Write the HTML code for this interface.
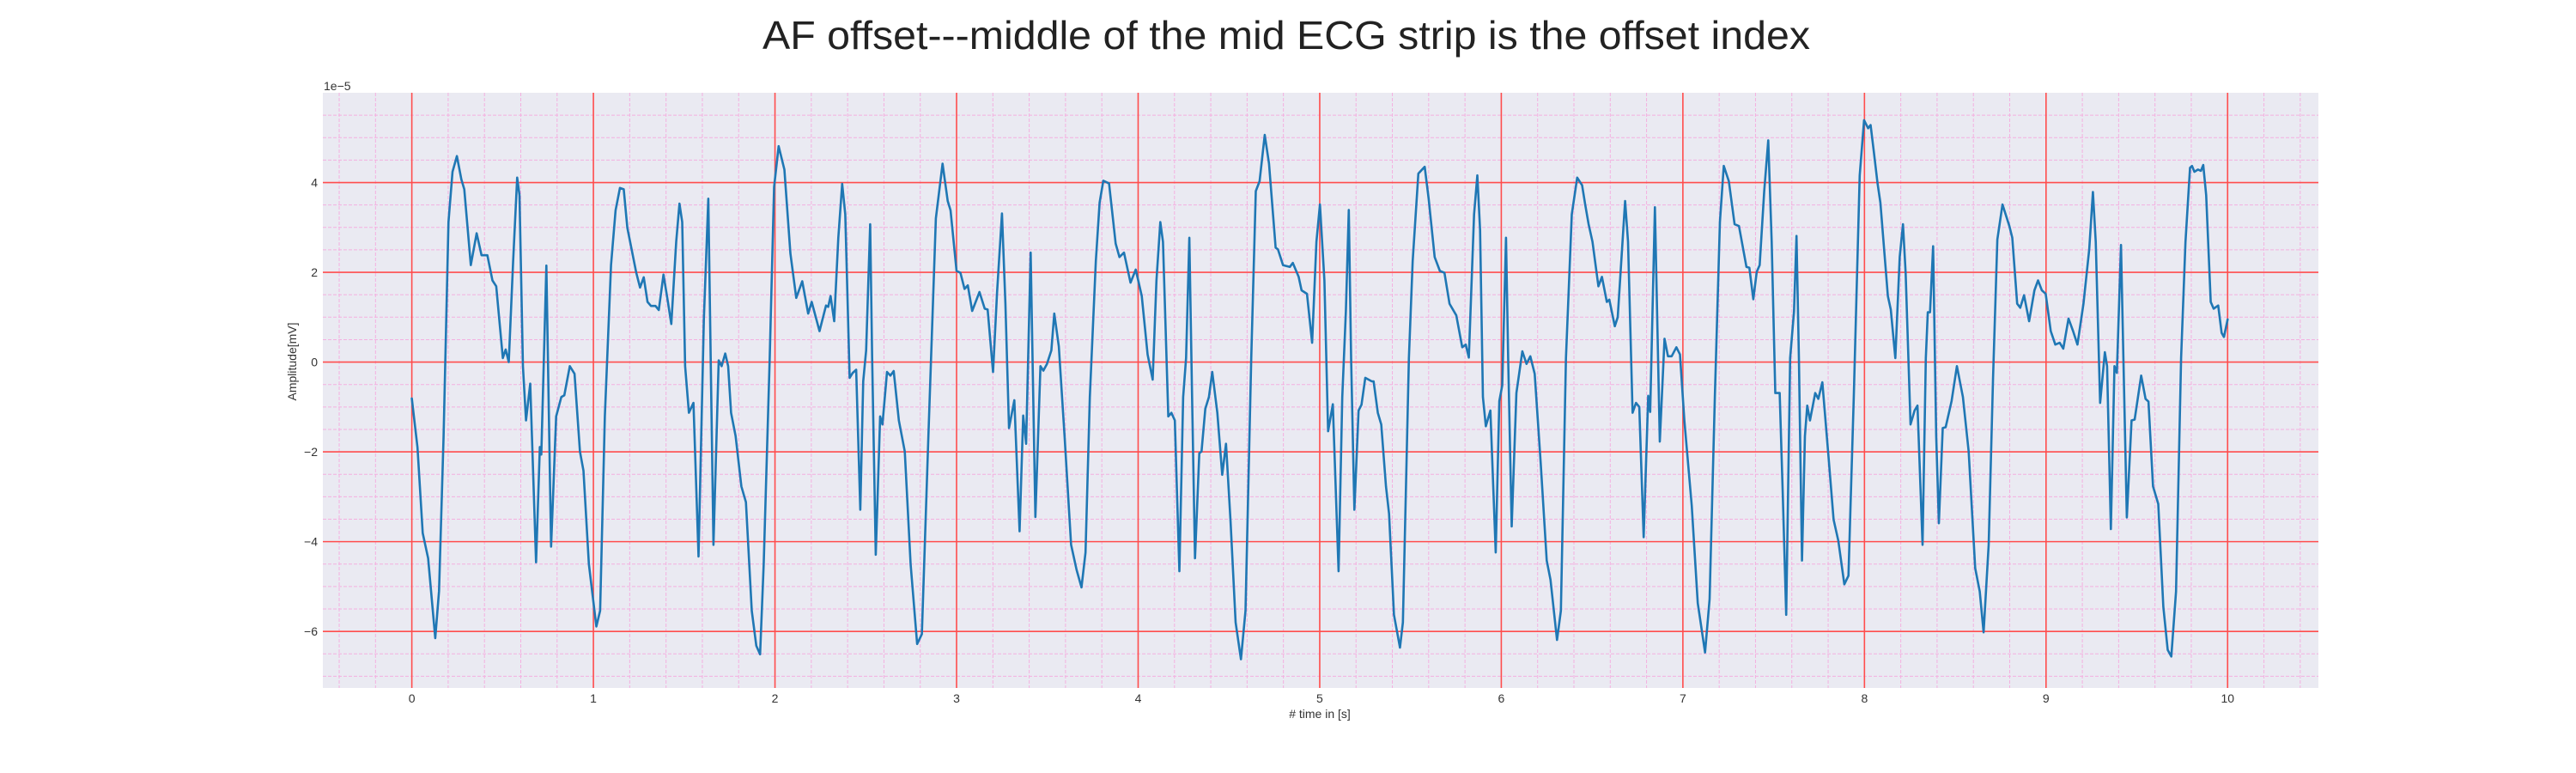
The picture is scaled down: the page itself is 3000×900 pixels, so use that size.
<!DOCTYPE html>
<html><head><meta charset="utf-8"><style>
html,body{margin:0;padding:0;background:#fff;}
svg{display:block;font-family:"Liberation Sans",sans-serif;}
</style></head><body>
<svg id="chart" width="3000" height="900" viewBox="0 0 3000 900" xmlns="http://www.w3.org/2000/svg">
<text x="1498" y="57" font-size="46" text-anchor="middle" textLength="1220" lengthAdjust="spacingAndGlyphs" fill="#222">AF offset---middle of the mid ECG strip is the offset index</text>
<rect x="376" y="108" width="2324" height="693" fill="#eaeaf2"/>
<g id="grid"></g>
<g id="ticks"></g>
<g id="series"></g>
<text x="377" y="105" font-size="14" fill="#333">1e−5</text>
<text x="1537" y="836" font-size="14" text-anchor="middle" fill="#333"># time in [s]</text>
<text x="0" y="0" font-size="14" text-anchor="middle" fill="#333" transform="translate(345,421) rotate(-90)">Amplitude[mV]</text>
</svg>
<script>
const xTicks = [0,1,2,3,4,5,6,7,8,9,10];
const yTicks = [-6,-4,-2,0,2,4];
const yTickLabels = ["−6","−4","−2","0","2","4"];
const times = [0,.031,.06,.09,.129,.15,.175,.202,.224,.248,.273,.289,.325,.357,.384,.416,.444,.465,.501,.517,.534,.558,.58,.593,.612,.629,.652,.684,.705,.713,.741,.767,.795,.823,.84,.87,.896,.926,.945,.975,1.016,1.037,1.063,1.097,1.122,1.146,1.167,1.187,1.236,1.257,1.277,1.298,1.317,1.342,1.36,1.386,1.407,1.429,1.456,1.474,1.489,1.505,1.526,1.551,1.579,1.608,1.633,1.661,1.69,1.706,1.726,1.742,1.758,1.783,1.815,1.84,1.872,1.897,1.918,1.938,1.971,1.995,2.02,2.052,2.085,2.117,2.15,2.183,2.202,2.245,2.281,2.293,2.306,2.326,2.349,2.37,2.387,2.411,2.428,2.447,2.47,2.486,2.502,2.524,2.535,2.555,2.579,2.592,2.617,2.636,2.654,2.682,2.715,2.747,2.783,2.809,2.845,2.886,2.923,2.951,2.967,3.0,3.021,3.044,3.062,3.086,3.126,3.155,3.171,3.201,3.223,3.25,3.269,3.289,3.318,3.347,3.367,3.383,3.408,3.434,3.462,3.478,3.498,3.522,3.538,3.563,3.595,3.631,3.661,3.688,3.71,3.734,3.767,3.788,3.808,3.84,3.876,3.897,3.922,3.958,3.987,4.02,4.052,4.08,4.101,4.122,4.137,4.166,4.183,4.202,4.227,4.248,4.264,4.282,4.297,4.313,4.337,4.349,4.37,4.39,4.408,4.436,4.463,4.484,4.509,4.537,4.566,4.591,4.623,4.648,4.669,4.697,4.721,4.757,4.77,4.798,4.835,4.852,4.884,4.9,4.93,4.958,4.982,5.001,5.026,5.046,5.072,5.104,5.124,5.144,5.16,5.173,5.191,5.214,5.23,5.251,5.287,5.297,5.32,5.339,5.365,5.382,5.409,5.442,5.458,5.491,5.512,5.543,5.578,5.6,5.633,5.662,5.687,5.715,5.752,5.785,5.804,5.821,5.85,5.868,5.883,5.899,5.915,5.94,5.969,5.989,6.005,6.026,6.038,6.057,6.083,6.116,6.139,6.16,6.184,6.217,6.25,6.271,6.307,6.328,6.356,6.388,6.418,6.445,6.462,6.481,6.502,6.535,6.554,6.581,6.595,6.625,6.641,6.682,6.698,6.723,6.742,6.76,6.784,6.809,6.82,6.846,6.873,6.899,6.918,6.938,6.964,6.984,7.008,7.049,7.082,7.122,7.147,7.176,7.204,7.225,7.253,7.285,7.309,7.35,7.366,7.388,7.407,7.423,7.448,7.47,7.489,7.509,7.533,7.55,7.569,7.591,7.612,7.626,7.639,7.656,7.672,7.685,7.7,7.729,7.746,7.768,7.803,7.83,7.856,7.889,7.912,7.941,7.974,7.998,8.02,8.034,8.052,8.072,8.088,8.129,8.145,8.17,8.194,8.212,8.227,8.254,8.276,8.292,8.32,8.338,8.349,8.361,8.378,8.395,8.41,8.431,8.447,8.48,8.509,8.542,8.574,8.61,8.635,8.656,8.684,8.708,8.732,8.76,8.798,8.814,8.841,8.858,8.879,8.907,8.936,8.956,8.977,8.998,9.026,9.051,9.075,9.095,9.124,9.149,9.173,9.206,9.238,9.258,9.274,9.298,9.324,9.336,9.357,9.377,9.39,9.413,9.426,9.445,9.471,9.488,9.524,9.548,9.564,9.589,9.618,9.646,9.67,9.69,9.716,9.744,9.768,9.793,9.804,9.817,9.837,9.853,9.866,9.882,9.907,9.923,9.948,9.967,9.98,10.0];
const amps = [-0.81,-1.9,-3.81,-4.37,-6.15,-5.1,-1.65,3.12,4.24,4.59,4.07,3.85,2.16,2.87,2.38,2.38,1.82,1.69,0.09,0.28,0,2.25,4.11,3.72,-0.09,-1.3,-0.48,-4.46,-1.89,-2.06,2.15,-4.11,-1.21,-0.78,-0.74,-0.09,-0.26,-1.99,-2.42,-4.5,-5.89,-5.54,-1.21,2.16,3.38,3.88,3.85,2.99,1.99,1.66,1.89,1.34,1.25,1.25,1.16,1.95,1.43,0.85,2.68,3.53,3.12,-0.09,-1.13,-0.91,-4.33,0.95,3.64,-4.07,0.04,-0.09,0.19,-0.09,-1.13,-1.65,-2.77,-3.12,-5.54,-6.32,-6.51,-4.5,0.09,3.9,4.81,4.29,2.42,1.43,1.8,1.08,1.34,0.69,1.26,1.23,1.47,0.91,2.77,3.97,3.29,-0.35,-0.24,-0.17,-3.29,-0.43,0.26,3.07,0.09,-4.29,-1.21,-1.39,-0.22,-0.3,-0.2,-1.3,-1.99,-4.5,-6.28,-6.06,-1.65,3.2,4.42,3.59,3.38,2.03,1.99,1.63,1.71,1.14,1.56,1.19,1.17,-0.22,1.56,3.31,1.3,-1.47,-0.85,-3.77,-1.19,-1.82,2.44,-3.45,-0.09,-0.19,-0.04,0.26,1.08,0.35,-1.65,-4.07,-4.63,-5.02,-4.24,-0.78,2.25,3.55,4.04,3.98,2.64,2.34,2.44,1.77,2.06,1.47,0.17,-0.39,1.82,3.12,2.68,-1.21,-1.13,-1.3,-4.66,-0.78,0.09,2.77,-0.78,-4.37,-2.03,-1.99,-1.04,-0.78,-0.22,-1.13,-2.51,-1.82,-3.55,-5.8,-6.62,-5.54,0.09,3.81,4.03,5.06,4.42,2.55,2.51,2.16,2.12,2.21,1.9,1.6,1.52,0.43,2.68,3.51,1.82,-1.54,-0.94,-4.66,-0.78,1.13,3.39,0.09,-3.29,-1.08,-0.95,-0.35,-0.43,-0.43,-1.13,-1.39,-2.77,-3.38,-5.63,-6.36,-5.8,0.09,2.25,4.2,4.35,3.64,2.34,2.03,1.99,1.3,1.04,0.33,0.39,0.1,3.29,4.16,2.94,-0.78,-1.43,-1.08,-4.24,-0.87,-0.52,2.77,0.09,-3.66,-0.69,0.24,-0.04,0.13,-0.26,-2.25,-4.42,-4.85,-6.19,-5.54,0.09,3.29,4.11,3.94,3.51,3.07,2.68,1.69,1.9,1.34,1.39,0.8,1.0,3.59,2.68,-1.13,-0.91,-1.0,-3.9,-0.75,-1.11,3.45,-1.77,0.52,0.13,0.13,0.33,0.17,-1.3,-3.2,-5.37,-6.47,-5.28,-0.78,3.12,4.37,4.03,3.07,3.03,2.12,2.1,1.4,2.01,2.16,3.81,4.94,2.68,-0.69,-0.69,-2.94,-5.63,0.09,1.13,2.81,0.09,-4.42,-1.65,-0.97,-1.3,-0.69,-0.82,-0.45,-2.16,-3.51,-3.98,-4.95,-4.76,-0.78,4.16,5.39,5.21,5.28,4.68,3.98,3.55,1.47,1.17,0.09,2.34,3.07,1.99,-1.39,-1.08,-0.97,-4.07,0.09,1.11,1.11,2.58,-1.65,-3.59,-1.47,-1.45,-0.87,-0.09,-0.78,-1.99,-4.59,-5.11,-6.02,-4.07,-0.35,2.73,3.51,3.03,2.77,1.3,1.21,1.49,0.91,1.6,1.82,1.6,1.52,0.69,0.39,0.43,0.3,0.97,0.69,0.39,1.3,2.51,3.79,2.68,-0.91,0.22,-0.09,-3.72,-0.09,-0.24,2.61,0.09,-3.46,-1.3,-1.28,-0.3,-0.82,-0.88,-2.77,-3.16,-5.45,-6.41,-6.56,-5.11,0.09,2.68,4.33,4.37,4.24,4.29,4.26,4.39,3.72,1.34,1.19,1.26,0.65,0.56,0.95];

const NS = "http://www.w3.org/2000/svg";
const PL = 376, PR = 2700, PT = 108, PB = 801;
const X0 = -0.49, X1 = 10.5, Y0 = -7.26, Y1 = 6.0;
function xs(t){ return PL + (t - X0) / (X1 - X0) * (PR - PL); }
function ys(v){ return PB - (v - Y0) / (Y1 - Y0) * (PB - PT); }
function mk(tag, attrs, parent){ const e = document.createElementNS(NS, tag); for (const k in attrs) e.setAttribute(k, attrs[k]); parent.appendChild(e); return e; }

const grid = document.getElementById('grid');
for (let i = -2; i <= 52; i++) {
  const t = i * 0.2;
  if (t < X0 || t > X1 || i % 5 === 0) continue;
  const l = mk('line', {x1: xs(t), x2: xs(t), y1: PT, y2: PB, stroke: '#f4b0e0', 'stroke-width': 1, 'stroke-dasharray': '4,2'}, grid);
  
  
}
for (let i = -14; i <= 12; i++) {
  const v = i * 0.5;
  if (v < Y0 || v > Y1 || i % 4 === 0) continue;
  const l = mk('line', {x1: PL, x2: PR, y1: ys(v), y2: ys(v), stroke: '#f4b0e0', 'stroke-width': 1, 'stroke-dasharray': '4,2'}, grid);
  
  
}
const ticks = document.getElementById('ticks');
xTicks.forEach(t => {
  const l = mk('line', {x1: xs(t), x2: xs(t), y1: PT, y2: PB, stroke: '#ff4d4d', 'stroke-width': 1.6}, grid);
  
  
  const tx = mk('text', {x: xs(t), y: 818, 'font-size': 14, 'text-anchor': 'middle', fill: '#333'}, ticks);
  tx.textContent = String(t);
  
  
});
yTicks.forEach((v, i) => {
  const l = mk('line', {x1: PL, x2: PR, y1: ys(v), y2: ys(v), stroke: '#ff4d4d', 'stroke-width': 1.6}, grid);
  
  
  const tx = mk('text', {x: 370, y: ys(v) + 5, 'font-size': 14, 'text-anchor': 'end', fill: '#333'}, ticks);
  tx.textContent = yTickLabels[i];
  
  
});
const series = document.getElementById('series');
let d = '';
times.forEach((t, i) => { d += (i ? 'L' : 'M') + xs(t).toFixed(1) + ',' + ys(amps[i]).toFixed(1); });
const p = mk('path', {d: d, fill: 'none', stroke: '#1f77b4', 'stroke-width': 2.6, 'stroke-linejoin': 'round', 'stroke-linecap': 'round'}, series);


</script>
</body></html>
